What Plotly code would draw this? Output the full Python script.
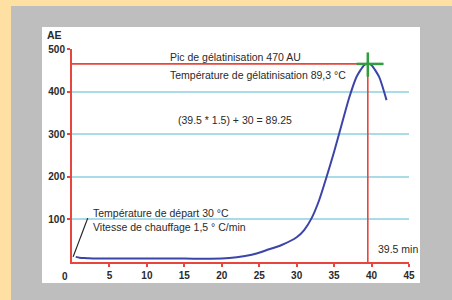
import plotly.graph_objects as go

# ---- data ----
time_min = [0.5, 1, 2, 3, 5, 10, 15, 20, 22, 24, 26, 28, 30, 31, 32, 33, 34, 35, 36, 37, 38, 39, 39.5, 40, 41, 42]
ae_values = [12, 10, 9, 8, 8, 8, 8, 8, 11, 17, 28, 40, 58, 75, 103, 145, 200, 259, 322, 385, 435, 462, 466, 462, 435, 380]

peak_time = 39.5
peak_ae = 465
start_ref_x = [0.15, 2.1]
start_ref_y = [12, 103]

x_ticks = [5, 10, 15, 20, 25, 30, 35, 40, 45]
y_ticks = [100, 200, 300, 400, 500]

labels = {
    "peak": "Pic de gélatinisation 470 AU",
    "temp": "Température de gélatinisation 89,3 °C",
    "calc": "(39.5 * 1.5) + 30 = 89.25",
    "start": "Température de départ 30 °C",
    "rate": "Vitesse de chauffage 1,5 ° C/min",
    "tmin": "39.5 min",
}

RED = "#E8453C"
BLUE = "#3B44A8"
GREEN = "#2E9E3E"
GRID = "#A9DCE6"
TXT = "#2A2A2A"
FONT = "Liberation Sans, Arial, sans-serif"

fig = go.Figure()

# red guide lines to peak
fig.add_trace(go.Scatter(x=[0, peak_time], y=[peak_ae, peak_ae], mode="lines",
                         line=dict(color=RED, width=1.6), hoverinfo="skip"))
fig.add_trace(go.Scatter(x=[peak_time, peak_time], y=[0, peak_ae], mode="lines",
                         line=dict(color=RED, width=1.6), hoverinfo="skip"))

# curve
fig.add_trace(go.Scatter(x=time_min, y=ae_values, mode="lines",
                         line=dict(color=BLUE, width=2, shape="spline", smoothing=0.6),
                         hoverinfo="skip"))

# green cross at peak
fig.add_trace(go.Scatter(x=[38, 41.6], y=[peak_ae, peak_ae], mode="lines",
                         line=dict(color=GREEN, width=2.5), hoverinfo="skip"))
fig.add_trace(go.Scatter(x=[peak_time, peak_time], y=[435, 492], mode="lines",
                         line=dict(color=GREEN, width=2.5), hoverinfo="skip"))

# black pointer line
fig.add_trace(go.Scatter(x=start_ref_x, y=start_ref_y, mode="lines",
                         line=dict(color="#222222", width=1.2), hoverinfo="skip"))

tickfont = dict(family=FONT, size=10, color=TXT, weight="bold")

fig.update_layout(
    width=452, height=300,
    margin=dict(l=72, r=43, t=49, b=38),
    paper_bgcolor="#FFE0A3",
    plot_bgcolor="rgba(0,0,0,0)",
    showlegend=False,
    font=dict(family=FONT, size=10.5, color=TXT),
    xaxis=dict(range=[0, 45], tickvals=x_ticks, ticktext=[str(v) for v in x_ticks],
               showgrid=False, zeroline=False, showline=True, linecolor=RED, linewidth=2,
               ticks="outside", ticklen=3, tickcolor=RED, tickwidth=2,
               tickfont=tickfont),
    yaxis=dict(range=[0, 500], tickvals=y_ticks, ticktext=[str(v) for v in y_ticks],
               showgrid=True, gridcolor=GRID, gridwidth=1.5, zeroline=False,
               showline=True, linecolor=RED, linewidth=2,
               ticks="outside", ticklen=3, tickcolor=RED, tickwidth=2,
               tickfont=tickfont),
    shapes=[
        dict(type="rect", xref="paper", yref="paper", x0=-0.181, x1=1.2, y0=-0.3, y1=1.202,
             fillcolor="#BEBEBE", line=dict(width=0), layer="below"),
        dict(type="rect", xref="paper", yref="paper", x0=-0.089, x1=1.0326, y0=-0.0986, y1=1.1033,
             fillcolor="#FFFFFF", line=dict(width=0), layer="below"),
    ],
)

def ann(text, x, y, xref="x", yref="y", xanchor="left", size=10.5, bold=False):
    fig.add_annotation(text=("<b>%s</b>" % text) if bold else text, x=x, y=y, xref=xref, yref=yref,
                       xanchor=xanchor, yanchor="middle", showarrow=False,
                       font=dict(family=FONT, size=size, color=TXT))

ann(labels["peak"], 12.8, 481)
ann(labels["temp"], 12.8, 439)
ann(labels["calc"], 13.9, 333)
ann(labels["start"], 2.5, 115)
ann(labels["rate"], 2.5, 82)
ann(labels["tmin"], 40.6, 30)
ann("AE", (54.5 - 72) / 337, (262 - 35) / 213, xref="paper", yref="paper", xanchor="center", size=10.5, bold=True)
ann("0", (65 - 72) / 337, (262 - 276) / 213, xref="paper", yref="paper", xanchor="center", size=10, bold=True)

fig.write_html("out.html", config={"displayModeBar": False},
               post_script="document.body.style.margin='0';document.body.style.overflow='hidden';")
